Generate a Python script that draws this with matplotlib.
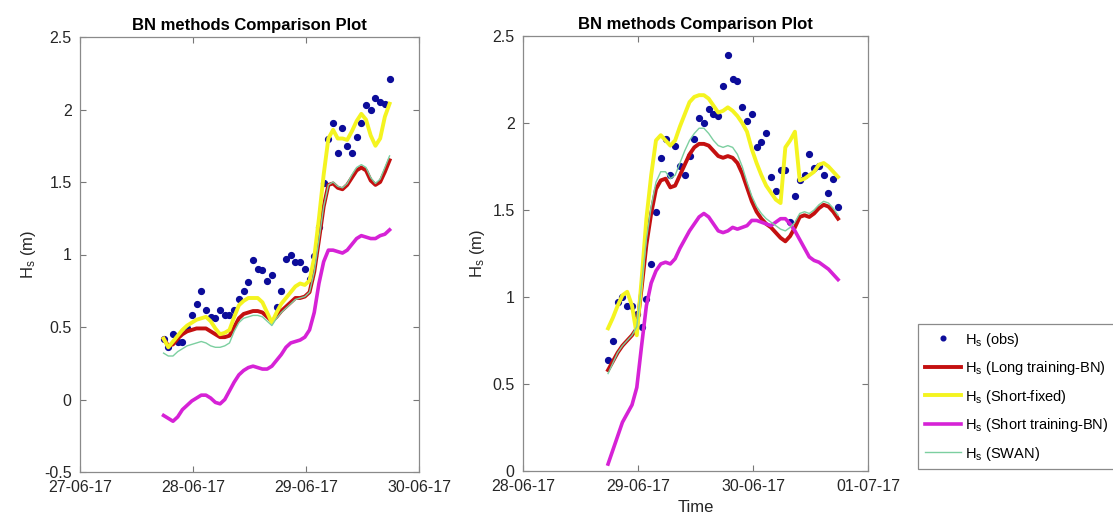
import numpy as np
import pandas as pd
import matplotlib
matplotlib.use("Agg")
import matplotlib.pyplot as plt
import matplotlib.dates as mdates
from matplotlib.ticker import FormatStrFormatter

plt.rcParams['font.family'] = ['Liberation Sans', 'DejaVu Sans']
plt.rcParams['mathtext.default'] = 'regular'

# hourly observed wave height, 27-06-17 17:45 onwards
hs_obs = [0.42, 0.36, 0.45, 0.40, 0.40, 0.49, 0.58, 0.66, 0.75, 0.62,
          0.57, 0.56, 0.62, 0.58, 0.58, 0.62, 0.69, 0.75, 0.81, 0.96,
          0.90, 0.89, 0.82, 0.86, 0.64, 0.75, 0.97, 1.00, 0.95, 0.95,
          0.90, 0.83, 0.99, 1.19, 1.49, 1.80, 1.91, 1.70, 1.87, 1.75,
          1.70, 1.81, 1.91, 2.03, 2.00, 2.08, 2.05, 2.04, 2.21, 2.39,
          2.25, 2.24, 2.09, 2.01, 2.05, 1.86, 1.89, 1.94, 1.69, 1.61,
          1.73, 1.73, 1.43, 1.58, 1.67, 1.70, 1.82, 1.74, 1.75, 1.70,
          1.60, 1.68, 1.52]

# first window (27-06 -> 29-06)
long_bn_1 = [0.42, 0.37, 0.38, 0.42, 0.45, 0.47, 0.48, 0.49, 0.49, 0.49,
             0.47, 0.45, 0.43, 0.43, 0.44, 0.50, 0.56, 0.59, 0.60, 0.61,
             0.61, 0.60, 0.57, 0.54, 0.57, 0.61, 0.64, 0.67, 0.70, 0.70,
             0.71, 0.74, 0.88, 1.10, 1.33, 1.48, 1.49, 1.46, 1.45, 1.48,
             1.53, 1.58, 1.60, 1.58, 1.51, 1.48, 1.50, 1.57, 1.65]
short_fixed_1 = [0.42, 0.36, 0.40, 0.44, 0.48, 0.51, 0.53, 0.55, 0.56, 0.57,
                 0.54, 0.49, 0.45, 0.46, 0.48, 0.57, 0.65, 0.68, 0.70, 0.70,
                 0.70, 0.67, 0.60, 0.53, 0.60, 0.66, 0.70, 0.74, 0.78, 0.80,
                 0.79, 0.82, 0.98, 1.25, 1.55, 1.80, 1.86, 1.80, 1.80, 1.79,
                 1.85, 1.92, 1.97, 1.93, 1.82, 1.75, 1.80, 1.95, 2.04]
short_bn_1 = [-0.11, -0.13, -0.15, -0.12, -0.07, -0.04, -0.01, 0.01, 0.03, 0.03,
              0.01, -0.02, -0.03, 0.00, 0.06, 0.12, 0.17, 0.20, 0.22, 0.23,
              0.22, 0.21, 0.21, 0.23, 0.27, 0.31, 0.36, 0.39, 0.40, 0.41,
              0.43, 0.48, 0.60, 0.80, 0.95, 1.03, 1.03, 1.02, 1.01, 1.03,
              1.07, 1.11, 1.13, 1.12, 1.11, 1.11, 1.13, 1.14, 1.17]
swan_1 = [0.32, 0.30, 0.30, 0.33, 0.35, 0.37, 0.38, 0.39, 0.40, 0.39,
          0.37, 0.36, 0.36, 0.37, 0.39, 0.47, 0.53, 0.56, 0.57, 0.58,
          0.58, 0.57, 0.54, 0.51, 0.56, 0.60, 0.63, 0.66, 0.69, 0.70,
          0.71, 0.74, 0.88, 1.10, 1.33, 1.48, 1.50, 1.47, 1.46, 1.49,
          1.55, 1.60, 1.62, 1.60, 1.53, 1.49, 1.52, 1.60, 1.68]

# second window (28-06 -> 30-06)
long_bn_2 = [0.58, 0.63, 0.68, 0.72, 0.75, 0.78, 0.82, 1.05, 1.30, 1.48,
             1.62, 1.67, 1.68, 1.63, 1.64, 1.70, 1.76, 1.82, 1.86, 1.88,
             1.88, 1.87, 1.84, 1.81, 1.80, 1.81, 1.80, 1.77, 1.71, 1.63,
             1.55, 1.49, 1.45, 1.42, 1.40, 1.37, 1.34, 1.32, 1.35, 1.40,
             1.46, 1.47, 1.46, 1.48, 1.51, 1.53, 1.52, 1.49, 1.45]
short_fixed_2 = [0.82, 0.88, 0.95, 1.01, 1.03, 0.95, 0.78, 1.10, 1.45, 1.70,
                 1.90, 1.93, 1.90, 1.87, 1.90, 1.98, 2.05, 2.12, 2.15, 2.16,
                 2.16, 2.14, 2.10, 2.06, 2.07, 2.09, 2.07, 2.04, 2.00, 1.95,
                 1.85, 1.77, 1.70, 1.64, 1.60, 1.56, 1.54, 1.86, 1.90, 1.95,
                 1.67, 1.68, 1.70, 1.72, 1.76, 1.77, 1.75, 1.72, 1.69]
short_bn_2 = [0.04, 0.12, 0.20, 0.28, 0.33, 0.38, 0.48, 0.72, 0.95, 1.08,
              1.15, 1.19, 1.20, 1.19, 1.22, 1.28, 1.33, 1.38, 1.42, 1.46,
              1.48, 1.46, 1.42, 1.38, 1.37, 1.38, 1.40, 1.39, 1.40, 1.41,
              1.44, 1.44, 1.43, 1.42, 1.41, 1.43, 1.45, 1.45, 1.42, 1.38,
              1.33, 1.28, 1.23, 1.21, 1.20, 1.18, 1.16, 1.13, 1.10]
swan_2 = [0.56, 0.62, 0.68, 0.72, 0.75, 0.78, 0.83, 1.07, 1.33, 1.52,
          1.66, 1.72, 1.72, 1.68, 1.70, 1.77, 1.84, 1.90, 1.94, 1.97,
          1.97, 1.94, 1.90, 1.87, 1.86, 1.87, 1.86, 1.82, 1.75, 1.66,
          1.58, 1.52, 1.48, 1.45, 1.43, 1.41, 1.39, 1.38, 1.40, 1.43,
          1.48, 1.49, 1.48, 1.50, 1.53, 1.55, 1.54, 1.51, 1.47]

t_obs = pd.date_range("2017-06-27 17:45", periods=len(hs_obs), freq="h")
t1 = t_obs[:49]
t2 = t_obs[24:73]

labels = ['$H_s$ (obs)', '$H_s$ (Long training-BN)', '$H_s$ (Short-fixed)',
          '$H_s$ (Short training-BN)', '$H_s$ (SWAN)']

fig = plt.figure(figsize=(11.13, 5.23), dpi=100)
ax1 = fig.add_axes([80/1113, 51/523, 339/1113, 435/523])
ax2 = fig.add_axes([523/1113, 52/523, 345/1113, 435/523])

def draw(ax, t, obs, lb, sf, sb, sw):
    ax.plot(t, obs, 'o', color='#0c0c9a', markersize=4.2, label=labels[0])
    ax.plot(t, lb, color='#c41010', lw=2.8, label=labels[1])
    ax.plot(t, sf, color='#f4f420', lw=2.8, label=labels[2])
    ax.plot(t, sb, color='#d622d6', lw=2.6, label=labels[3])
    ax.plot(t, sw, color='#7ccfa0', lw=1.0, label=labels[4])
    ax.set_title('BN methods Comparison Plot', fontsize=12, fontweight='bold', pad=5)
    ax.set_ylabel('$H_s$ (m)', fontsize=12, color='#262626')
    ax.xaxis.set_major_locator(mdates.DayLocator())
    ax.xaxis.set_major_formatter(mdates.DateFormatter('%d-%m-%y'))
    ax.yaxis.set_major_formatter(FormatStrFormatter('%g'))
    ax.tick_params(direction='in', length=4, top=True, right=True,
                   labelsize=11.5, colors='#262626', pad=6)
    ax.tick_params(axis='both', color='#777777')
    for s in ax.spines.values():
        s.set_color('#8a8a8a')
        s.set_linewidth(0.9)

draw(ax1, t1, hs_obs[:49], long_bn_1, short_fixed_1, short_bn_1, swan_1)
ax1.set_xlim(pd.Timestamp("2017-06-27"), pd.Timestamp("2017-06-30"))
ax1.set_ylim(-0.5, 2.5)

draw(ax2, t2, hs_obs[24:73], long_bn_2, short_fixed_2, short_bn_2, swan_2)
ax2.set_xlim(pd.Timestamp("2017-06-28"), pd.Timestamp("2017-07-01"))
ax2.set_ylim(0, 2.5)
ax2.set_xlabel('Time', fontsize=12, color='#262626')

leg = ax2.legend(loc='upper left', bbox_to_anchor=(918/1113, 1 - 324/523),
                 bbox_transform=fig.transFigure, fontsize=10.5, frameon=True,
                 fancybox=False, framealpha=1, edgecolor='#8a8a8a',
                 handlelength=2.5, handletextpad=0.3, labelspacing=0.72,
                 borderpad=0.45, borderaxespad=0, markerscale=0.8)
leg.get_frame().set_linewidth(0.9)

fig.savefig('out.png', dpi=100)
